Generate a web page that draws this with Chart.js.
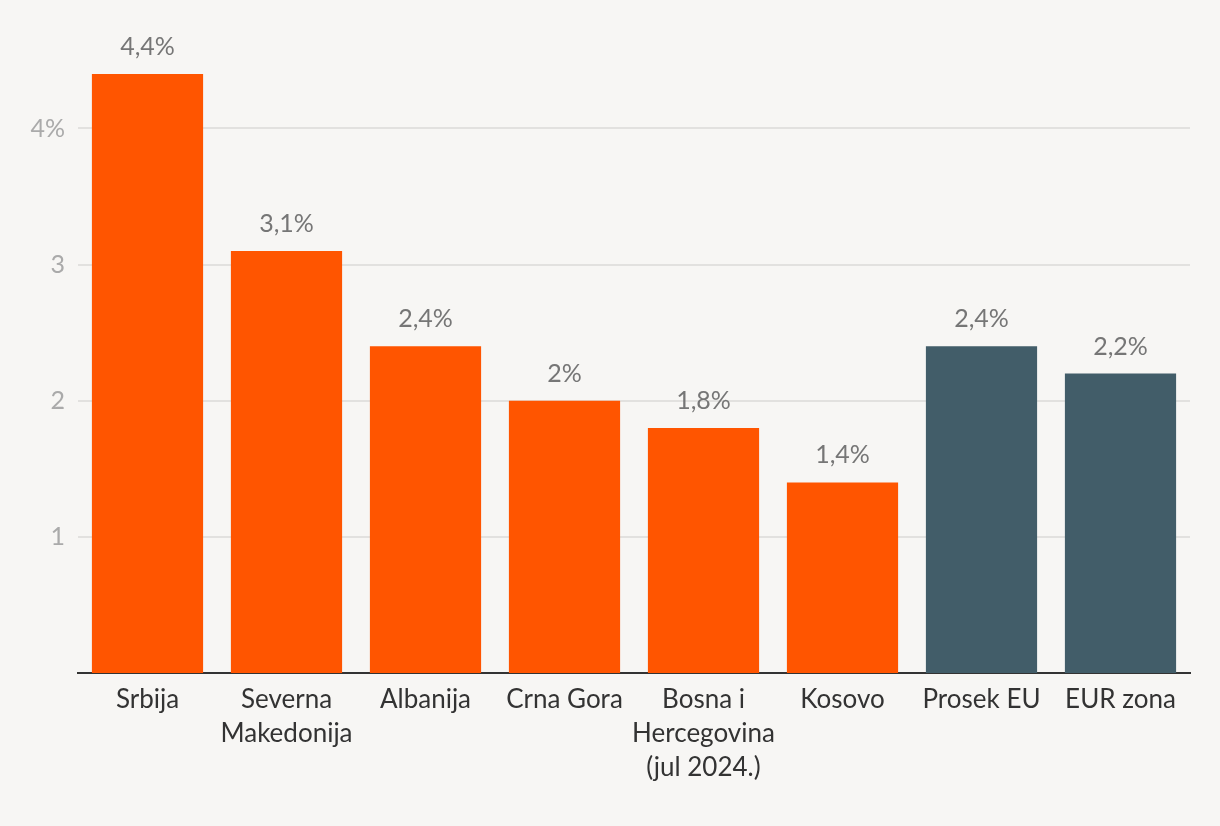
<!DOCTYPE html>
<html>
<head>
<meta charset="utf-8">
<script src="https://cdn.jsdelivr.net/npm/chart.js@4"></script>
<style>
html,body{margin:0;padding:0;background:#f7f6f4;}
#wrap{width:1220px;height:826px;}
</style>
</head>
<body>
<div id="wrap"><canvas id="c" width="1220" height="826"></canvas></div>
<script>
const categories = [["Srbija"], ["Severna", "Makedonija"], ["Albanija"], ["Crna Gora"], ["Bosna i", "Hercegovina", "(jul 2024.)"], ["Kosovo"], ["Prosek EU"], ["EUR zona"]];
const values = [4.4, 3.1, 2.4, 2, 1.8, 1.4, 2.4, 2.2];
const groups = ["region", "region", "region", "region", "region", "region", "eu", "eu"];
const yTicks = [1, 2, 3, 4];

const colorFor = {region: "#ff5500", eu: "#425d69"};
const FONT = "Lato, 'Open Sans', sans-serif";

const fmt = v => String(v).replace(".", ",") + "%";

const valueLabels = {
  id: "valueLabels",
  afterDatasetsDraw(chart) {
    const ctx = chart.ctx;
    const meta = chart.getDatasetMeta(0);
    ctx.save();
    ctx.font = "25px " + FONT;
    ctx.fillStyle = "#767676";
    ctx.textAlign = "center";
    ctx.textBaseline = "alphabetic";
    meta.data.forEach((bar, i) => {
      ctx.fillText(fmt(values[i]), bar.x, bar.y - 19);
    });
    ctx.restore();
  }
};

new Chart(document.getElementById("c"), {
  type: "bar",
  data: {
    labels: categories,
    datasets: [{
      data: values,
      backgroundColor: groups.map(g => colorFor[g]),
      categoryPercentage: 0.8,
      barPercentage: 1.0
    }]
  },
  options: {
    responsive: false,
    animation: false,
    devicePixelRatio: 1,
    layout: {padding: {top: 74, right: 30, left: 0, bottom: 0}},
    plugins: {legend: {display: false}, tooltip: {enabled: false}},
    scales: {
      x: {
        grid: {display: false, drawTicks: false},
        border: {display: true, color: "#333333", width: 2},
        ticks: {color: "#333333", font: {family: FONT, size: 26, lineHeight: 1.3}, padding: 10, maxRotation: 0, autoSkip: false},
        afterFit(s) { s.height = 826 - 673; }
      },
      y: {
        min: 0, max: 4.4,
        afterBuildTicks(s) { s.ticks = yTicks.map(v => ({value: v})); },
        grid: {color: "#e2e1df", lineWidth: 2, drawTicks: false},
        border: {display: false},
        ticks: {
          color: "#aaaaaa", font: {family: FONT, size: 25}, padding: 13,
          callback: v => v === 4 ? "4%" : String(v)
        },
        afterFit(s) { s.width = 78; }
      }
    }
  },
  plugins: [valueLabels]
});
</script>
</body>
</html>
